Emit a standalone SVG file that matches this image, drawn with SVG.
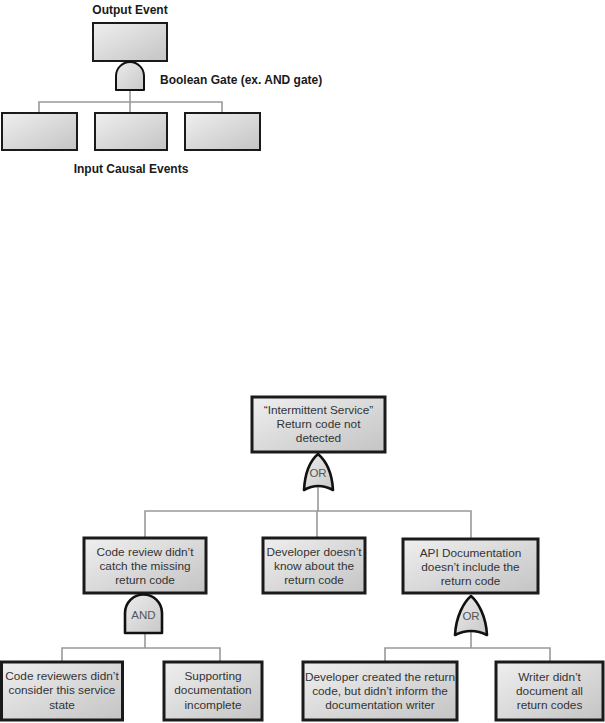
<svg xmlns="http://www.w3.org/2000/svg" width="605" height="723" viewBox="0 0 605 723">
<defs>
<linearGradient id="g" x1="0" y1="0" x2="1" y2="1">
<stop offset="0" stop-color="#efefef"/>
<stop offset="1" stop-color="#c4c4c4"/>
</linearGradient>
<linearGradient id="gg" x1="0" y1="0" x2="1" y2="1">
<stop offset="0" stop-color="#ececec"/>
<stop offset="1" stop-color="#c8c8c8"/>
</linearGradient>
</defs>
<style>
.box{fill:url(#g);stroke:#1a1a1a;stroke-width:3}
.sbox{fill:url(#g);stroke:#1a1a1a;stroke-width:2}
.gate{fill:url(#gg);stroke:#111;stroke-width:2.6;stroke-linejoin:round}
.sgate{fill:url(#gg);stroke:#111;stroke-width:2;stroke-linejoin:round}
.ln{fill:none;stroke:#999;stroke-width:1.6}
.lbl{font-family:"Liberation Sans",Arial,sans-serif;font-size:12px;font-weight:bold;fill:#1a1a1a}
.t{font-family:"Liberation Sans",Arial,sans-serif;font-size:11.8px;fill:#333;text-anchor:middle}
.gt{font-family:"Liberation Sans",Arial,sans-serif;font-size:11.5px;fill:#555;text-anchor:middle}
</style>

<g id="connectors">
<path class="ln" d="M130,90 V102 M39,113 V102 H222 V113 M130,102 V113"/>
<path class="ln" d="M318,486 V511 M145,538 V511 H471 V539 M317,511 V538"/>
<path class="ln" d="M145,633 V648 M62,662 V648 H220 V662"/>
<path class="ln" d="M471,632 V648 M385,662 V648 H550 V662"/>
</g>

<g id="legend">
<text class="lbl" x="130" y="14" text-anchor="middle">Output Event</text>
<g id="legend-output"><rect class="sbox" x="93" y="23" width="74" height="38"/></g>
<g id="legend-gate"><path class="sgate" d="M116,90 V76 A14,14 0 0 1 144,76 V90 Z"/></g>
<text class="lbl" x="160" y="84">Boolean Gate (ex. AND gate)</text>
<g id="legend-in1"><rect class="sbox" x="2" y="113" width="75" height="37"/></g>
<g id="legend-in2"><rect class="sbox" x="95" y="113" width="72" height="37"/></g>
<g id="legend-in3"><rect class="sbox" x="185" y="113" width="75" height="37"/></g>
<text class="lbl" x="131" y="173" text-anchor="middle">Input Causal Events</text>
</g>

<g id="top-event">
<rect class="box" x="252" y="397" width="133" height="55"/>
<text class="t" x="318.5" y="414">“Intermittent Service”</text>
<text class="t" x="318.5" y="428">Return code not</text>
<text class="t" x="318.5" y="442">detected</text>
</g>

<g id="or-gate-1">
<path class="gate" d="M318,454 C325,460 332,472 333,490 Q318,482 304,490 C305,472 311,460 318,454 Z"/>
<text class="gt" x="318" y="477">OR</text>
</g>

<g id="code-review">
<rect class="box" x="84" y="538" width="122" height="55"/>
<text class="t" x="145" y="556">Code review didn’t</text>
<text class="t" x="145" y="570">catch the missing</text>
<text class="t" x="145" y="584">return code</text>
</g>

<g id="developer-unaware">
<rect class="box" x="263" y="538" width="102" height="55"/>
<text class="t" x="314" y="556">Developer doesn’t</text>
<text class="t" x="314" y="570">know about the</text>
<text class="t" x="314" y="584">return code</text>
</g>

<g id="api-doc">
<rect class="box" x="403" y="539" width="135" height="54"/>
<text class="t" x="470.5" y="557">API Documentation</text>
<text class="t" x="470.5" y="571">doesn’t include the</text>
<text class="t" x="470.5" y="585">return code</text>
</g>

<g id="and-gate">
<path class="gate" d="M125,633 V613 A18.5,18.5 0 0 1 162,613 V633 Z"/>
<text class="gt" x="143.5" y="619">AND</text>
</g>

<g id="or-gate-2">
<path class="gate" d="M471,596 C478,602 486,616 487,635 Q471,627 455,635 C456,616 464,602 471,596 Z"/>
<text class="gt" x="471" y="620">OR</text>
</g>

<g id="reviewers">
<rect class="box" x="1.5" y="662" width="121" height="58"/>
<text class="t" x="62" y="680">Code reviewers didn’t</text>
<text class="t" x="62" y="694">consider this service</text>
<text class="t" x="62" y="709">state</text>
</g>

<g id="supporting-doc">
<rect class="box" x="164" y="662" width="98" height="58"/>
<text class="t" x="213" y="680">Supporting</text>
<text class="t" x="213" y="694">documentation</text>
<text class="t" x="213" y="709">incomplete</text>
</g>

<g id="dev-created">
<rect class="box" x="303" y="662" width="154" height="58"/>
<text class="t" x="380" y="681">Developer created the return</text>
<text class="t" x="380" y="695">code, but didn’t inform the</text>
<text class="t" x="380" y="709">documentation writer</text>
</g>

<g id="writer">
<rect class="box" x="496" y="662" width="107" height="58"/>
<text class="t" x="549.5" y="681">Writer didn’t</text>
<text class="t" x="549.5" y="695">document all</text>
<text class="t" x="549.5" y="709">return codes</text>
</g>
</svg>
